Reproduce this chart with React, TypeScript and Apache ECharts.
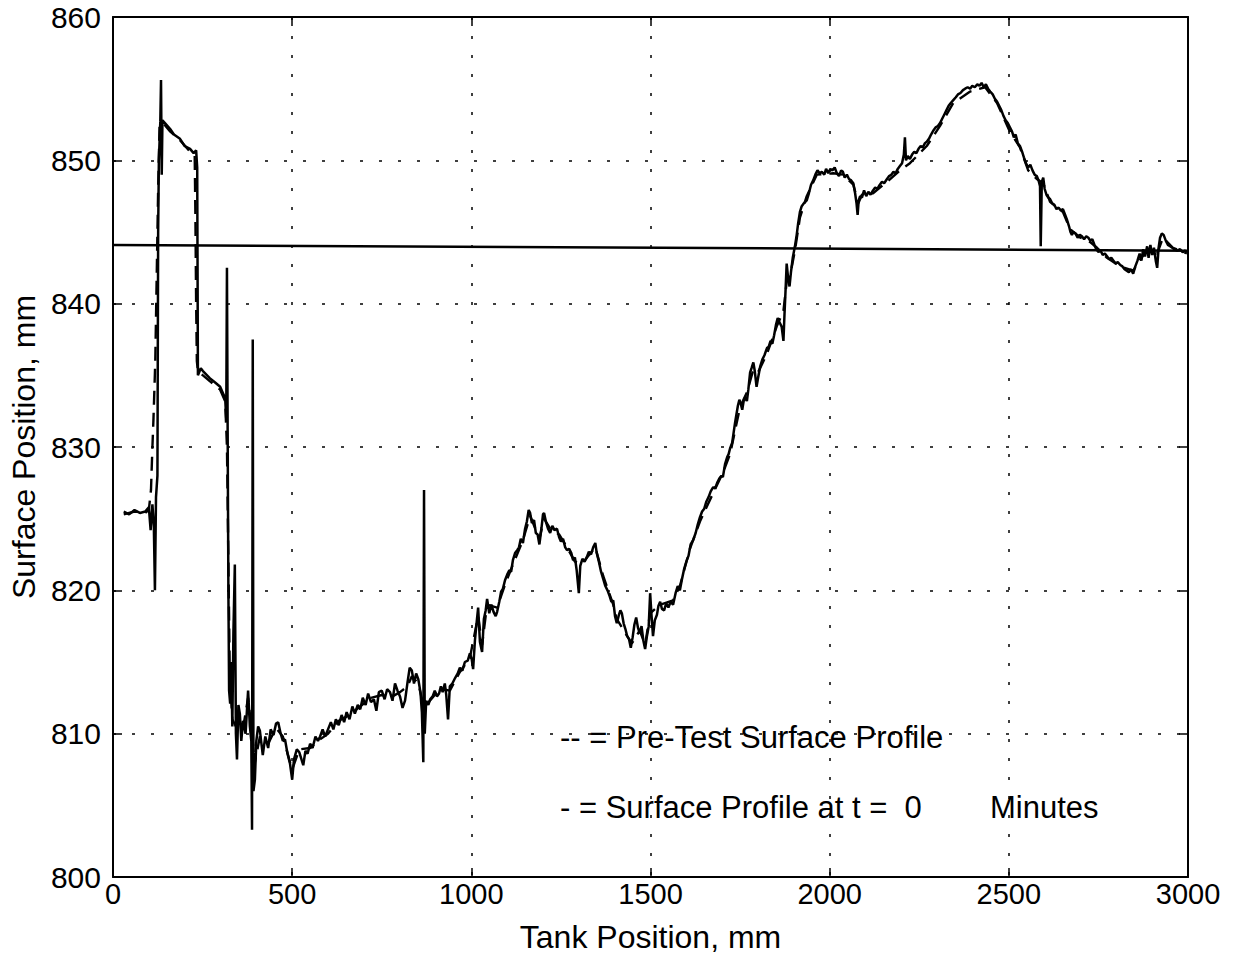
import React, { useEffect, useRef } from "react";
import * as echarts from "echarts";

const xTicks = [0, 500, 1000, 1500, 2000, 2500, 3000];
const yTicks = [800, 810, 820, 830, 840, 850, 860];

const waterLine: number[][] = [[0, 844.1], [3000, 843.7]];

const t0Profile: number[][] = [
  [30, 825.5], [45, 825.3], [60, 825.6], [75, 825.4], [90, 825.5], [100, 825.8], [105, 824.2], [110, 826.0], [114, 824.5], [117, 820.0],
  [120, 826.5], [124, 828], [126, 845], [128, 850], [132, 852.7], [134, 855.6], [136, 849], [138, 852.8], [145, 852.6], [159, 852.2],
  [170, 851.8], [187, 851.5], [200, 851.0], [215, 850.8], [225, 850.5], [232, 850.7], [235, 849.5], [237, 835.0], [245, 835.5], [251, 835.3],
  [270, 834.8], [285, 834.5], [299, 834.2], [313, 833.4], [316, 832], [318, 842.5], [320, 831], [322, 820], [324, 813], [327, 812.1],
  [330, 815], [333, 810.5], [336, 817], [340, 821.8], [343, 810], [346, 808.2], [350, 812], [354, 811.4], [358, 809.5], [363, 810.9],
  [370, 810.0], [377, 813.0], [382, 810.5], [386, 809.5], [388, 803.3], [390, 837.5], [392, 806], [396, 806.8], [400, 809.5], [405, 810.5],
  [410, 810.2], [418, 808.5], [425, 809.8], [433, 809.0], [440, 810.3], [448, 809.9], [455, 810.7], [461, 810.8], [468, 810.0], [474, 809.5],
  [480, 809.6], [487, 808.6], [494, 807.9], [500, 806.8], [505, 808.2], [513, 808.9], [520, 808.7], [526, 808.2], [531, 807.8], [537, 808.8],
  [543, 808.6], [550, 809.3], [557, 809.0], [565, 809.8], [572, 809.5], [578, 809.8], [585, 810.3], [592, 809.8], [600, 810.3], [608, 810.8],
  [615, 810.3], [622, 811.0], [630, 810.6], [638, 811.3], [645, 810.8], [652, 811.5], [660, 811.0], [668, 811.9], [675, 811.4], [683, 812.0],
  [690, 811.7], [697, 812.5], [705, 812.0], [712, 812.8], [720, 812.2], [728, 812.4], [735, 811.6], [742, 812.9], [750, 813.0], [758, 812.4],
  [765, 813.1], [773, 812.9], [780, 812.3], [787, 813.5], [794, 813.0], [801, 812.6], [808, 811.8], [815, 812.3], [822, 813.6], [828, 814.6],
  [834, 814.4], [840, 813.5], [846, 814.2], [852, 813.8], [858, 812.9], [862, 811.5], [866, 808.0], [868, 827.0], [870, 810], [874, 812.3],
  [880, 812.0], [885, 812.4], [892, 812.6], [898, 813.0], [904, 812.6], [910, 812.8], [915, 813.3], [920, 812.9], [926, 813.5], [930, 812.7],
  [935, 811.0], [940, 813.3], [947, 813.5], [955, 813.9], [962, 814.2], [968, 814.6], [975, 814.4], [982, 815.0], [990, 815.1], [996, 815.6],
  [1001, 815.2], [1005, 814.5], [1010, 816.5], [1015, 817.8], [1019, 818.8], [1024, 816.4], [1030, 815.7], [1035, 818.0], [1040, 818.6], [1044, 819.4],
  [1050, 818.4], [1056, 819.0], [1062, 818.5], [1068, 818.2], [1072, 818.5], [1078, 819.2], [1083, 819.9], [1088, 820.1], [1094, 820.7], [1100, 821.1],
  [1106, 821.4], [1111, 821.3], [1116, 822.1], [1122, 822.6], [1128, 822.8], [1133, 823.0], [1138, 823.6], [1144, 823.3], [1150, 824.3], [1155, 824.8],
  [1160, 825.6], [1164, 825.4], [1169, 824.7], [1175, 824.9], [1180, 824.0], [1185, 823.9], [1190, 823.2], [1196, 824.4], [1200, 825.3], [1203, 825.4],
  [1208, 824.8], [1214, 824.3], [1220, 824.0], [1226, 824.5], [1232, 824.2], [1239, 824.3], [1245, 823.7], [1250, 823.4], [1256, 823.6], [1262, 823.0],
  [1267, 822.8], [1273, 822.9], [1279, 822.6], [1284, 822.1], [1289, 822.3], [1294, 821.4], [1300, 819.8], [1304, 821.7], [1310, 822.2], [1316, 822.0],
  [1322, 822.3], [1328, 822.7], [1334, 822.5], [1340, 823.0], [1346, 823.3], [1350, 822.6], [1356, 822.0], [1362, 821.3], [1368, 820.8], [1374, 820.3],
  [1380, 820.0], [1386, 819.6], [1391, 819.2], [1396, 819.3], [1401, 818.2], [1406, 817.7], [1412, 818.3], [1416, 818.6], [1420, 818.4], [1425, 817.7],
  [1430, 817.3], [1435, 816.8], [1440, 816.6], [1445, 816.0], [1450, 816.7], [1455, 817.6], [1460, 818.1], [1465, 817.4], [1470, 817.0], [1475, 817.5],
  [1480, 816.5], [1485, 815.9], [1490, 816.8], [1495, 817.5], [1499, 819.8], [1503, 818.2], [1507, 816.8], [1512, 817.9], [1518, 818.3], [1522, 818.9],
  [1527, 819.2], [1532, 818.7], [1538, 818.6], [1544, 819.1], [1550, 818.8], [1556, 819.2], [1563, 819.0], [1570, 819.8], [1576, 820.3], [1582, 820.0],
  [1588, 820.8], [1594, 821.5], [1600, 822.0], [1606, 822.4], [1612, 823.2], [1619, 823.5], [1626, 824.0], [1632, 824.6], [1638, 825.1], [1644, 825.5],
  [1650, 825.7], [1656, 826.2], [1662, 826.5], [1668, 826.9], [1675, 827.2], [1680, 827.1], [1686, 827.5], [1692, 827.8], [1698, 828.0], [1702, 827.9],
  [1708, 828.8], [1714, 829.3], [1718, 829.5], [1722, 829.9], [1728, 830.3], [1732, 831.0], [1736, 831.7], [1740, 832.3], [1744, 832.9], [1748, 833.3],
  [1752, 833.0], [1756, 832.6], [1760, 833.2], [1765, 833.5], [1769, 833.2], [1773, 834.0], [1778, 835.2], [1782, 835.5], [1787, 835.9], [1791, 835.3],
  [1796, 834.2], [1800, 834.8], [1806, 835.6], [1812, 836.1], [1818, 836.4], [1825, 836.9], [1830, 837.0], [1835, 837.4], [1840, 837.2], [1845, 837.8],
  [1850, 838.5], [1855, 839.0], [1860, 838.7], [1866, 838.4], [1871, 837.4], [1874, 839.3], [1877, 841.0], [1880, 842.8], [1884, 841.8], [1888, 841.2],
  [1892, 842.2], [1897, 843.2], [1903, 844.0], [1908, 844.8], [1912, 845.6], [1917, 846.4], [1922, 846.8], [1928, 847.0], [1936, 847.2], [1942, 847.7],
  [1948, 848.3], [1954, 848.6], [1960, 849.0], [1966, 849.3], [1972, 849.1], [1978, 849.2], [1985, 849.0], [1990, 849.4], [1996, 849.1], [2002, 849.4],
  [2008, 849.3], [2014, 849.5], [2020, 849.1], [2026, 848.9], [2032, 849.3], [2037, 849.2], [2042, 848.8], [2048, 849.0], [2054, 848.7], [2060, 848.6],
  [2066, 848.4], [2071, 847.7], [2075, 847.0], [2078, 846.2], [2081, 847.2], [2085, 847.5], [2090, 847.4], [2096, 847.9], [2102, 847.5], [2108, 847.8],
  [2114, 847.6], [2121, 847.9], [2127, 848.1], [2133, 848.0], [2140, 848.3], [2146, 848.5], [2152, 848.4], [2160, 848.7], [2166, 848.9], [2172, 849.0],
  [2178, 849.2], [2184, 849.1], [2190, 849.4], [2196, 849.6], [2202, 849.8], [2207, 850.4], [2210, 851.6], [2213, 850.0], [2218, 850.3], [2224, 850.1],
  [2230, 850.4], [2236, 850.6], [2242, 850.5], [2248, 850.8], [2254, 851.0], [2260, 850.9], [2266, 851.2], [2271, 851.3], [2277, 851.5], [2283, 851.8],
  [2290, 852.1], [2296, 852.3], [2302, 852.4], [2308, 852.6], [2314, 852.9], [2320, 853.2], [2326, 853.5], [2332, 853.8], [2338, 854.0], [2345, 854.2],
  [2352, 854.4], [2358, 854.6], [2365, 854.7], [2372, 854.9], [2378, 855.0], [2385, 855.1], [2392, 855.0], [2398, 855.2], [2405, 855.1], [2412, 855.3],
  [2418, 855.2], [2424, 855.4], [2430, 855.1], [2436, 855.3], [2442, 855.0], [2448, 854.8], [2455, 854.6], [2461, 854.3], [2467, 854.1], [2473, 853.8],
  [2479, 853.5], [2485, 853.1], [2491, 852.8], [2497, 852.6], [2503, 852.3], [2509, 852.0], [2514, 851.6], [2519, 851.8], [2525, 851.2], [2531, 851.0],
  [2537, 850.6], [2542, 850.2], [2548, 849.8], [2554, 849.5], [2560, 849.7], [2566, 849.3], [2572, 849.0], [2578, 848.9], [2583, 848.6], [2587, 848.2],
  [2589, 844.0], [2592, 848.5], [2596, 848.8], [2600, 848.0], [2605, 847.6], [2610, 847.4], [2615, 847.3], [2621, 847.0], [2627, 846.9], [2633, 846.6],
  [2639, 846.7], [2645, 846.5], [2651, 846.6], [2657, 846.2], [2663, 845.8], [2668, 845.4], [2672, 845.0], [2676, 844.8], [2680, 845.0], [2686, 844.9],
  [2692, 844.6], [2698, 844.8], [2704, 844.7], [2710, 844.5], [2716, 844.7], [2722, 844.6], [2727, 844.4], [2733, 844.5], [2739, 844.1], [2744, 843.8],
  [2750, 843.6], [2756, 843.7], [2762, 843.4], [2768, 843.5], [2774, 843.3], [2780, 843.1], [2786, 843.2], [2792, 843.0], [2798, 842.8], [2804, 842.9],
  [2811, 842.7], [2817, 842.6], [2823, 842.4], [2829, 842.3], [2835, 842.2], [2841, 842.4], [2847, 842.1], [2853, 842.6], [2859, 843.0], [2865, 843.5],
  [2870, 843.0], [2875, 843.8], [2880, 843.3], [2886, 844.0], [2890, 843.2], [2895, 844.1], [2900, 843.4], [2905, 843.9], [2910, 843.0], [2914, 842.5],
  [2918, 843.9], [2922, 844.6], [2927, 844.9], [2932, 844.8], [2938, 844.4], [2944, 844.1], [2950, 844.0], [2956, 843.9], [2962, 843.8], [2970, 843.7],
  [2978, 843.8], [2985, 843.6], [2992, 843.7], [2997, 843.6],
];

const preTestProfile: number[][] = [
  [30, 825.3], [60, 825.5], [90, 825.4], [100, 825.6], [106, 827], [110, 830], [113, 832], [118, 836], [122, 842], [126, 848],
  [130, 852.5], [140, 852.6], [160, 852.0], [187, 851.4], [215, 850.6], [228, 850.3], [230, 846], [232, 840], [234, 836], [237, 835.3],
  [251, 835.0], [270, 834.6], [299, 834.0], [313, 833.2], [318, 830], [322, 822], [326, 814], [333, 811], [343, 810.5], [354, 810.8],
  [363, 810.4], [377, 812.5], [388, 810], [396, 808], [410, 809.8], [433, 809.3], [455, 810.4], [474, 809.8], [500, 807.5], [520, 808.9],
  [550, 809.0], [578, 809.6], [600, 810.0], [630, 810.9], [660, 811.3], [690, 811.9], [720, 812.5], [750, 812.7], [780, 812.6], [801, 812.9],
  [822, 813.3], [834, 814.0], [852, 813.5], [866, 812.0], [874, 812.0], [898, 812.7], [920, 813.1], [940, 813.0], [968, 814.3], [996, 815.3],
  [1019, 818.2], [1030, 816.2], [1044, 819.0], [1072, 818.8], [1094, 820.4], [1116, 821.8], [1144, 823.5], [1164, 825.2], [1190, 823.6], [1203, 825.0],
  [1220, 824.3], [1245, 823.9], [1267, 823.0], [1289, 822.0], [1310, 821.9], [1346, 823.0], [1368, 821.0], [1396, 819.0], [1406, 818.0], [1430, 817.0],
  [1448, 816.3], [1470, 817.2], [1485, 816.2], [1499, 818.4], [1527, 819.0], [1563, 819.3], [1582, 820.3], [1610, 822.9], [1638, 824.8], [1675, 826.8],
  [1702, 828.2], [1722, 829.5], [1750, 832.8], [1769, 833.8], [1787, 835.4], [1800, 835.2], [1825, 836.5], [1852, 838.4], [1871, 839.5], [1880, 841.5],
  [1890, 842.0], [1903, 843.7], [1917, 846.0], [1936, 847.5], [1964, 849.0], [2010, 849.1], [2037, 849.0], [2066, 848.3], [2080, 847.0], [2090, 847.6],
  [2121, 847.7], [2160, 848.5], [2196, 849.3], [2224, 849.8], [2271, 851.0], [2308, 852.4], [2345, 854.0], [2392, 854.8], [2434, 855.1], [2467, 854.0],
  [2503, 852.0], [2531, 850.9], [2554, 849.3], [2578, 848.7], [2596, 848.4], [2615, 847.1], [2651, 846.4], [2671, 845.2], [2700, 844.6], [2727, 844.3],
  [2746, 843.9], [2774, 843.2], [2811, 842.6], [2847, 842.3], [2870, 843.2], [2886, 843.7], [2914, 843.5], [2930, 844.6], [2958, 843.9], [2997, 843.5],
];

const FONT = "'Liberation Sans', Arial, Helvetica, sans-serif";

export default function App() {
  const ref = useRef<HTMLDivElement>(null);
  useEffect(() => {
    if (!ref.current) return;
    const chart = echarts.init(ref.current, undefined, { renderer: "svg" });
    const gridLine = { show: true, lineStyle: { color: "#000", width: 1.5, type: [3, 16] as any } };
    const axisLine = { show: true, onZero: false, lineStyle: { color: "#000", width: 2 } };
    const tick = { show: true, inside: true, length: 9, lineStyle: { color: "#000", width: 1.5 } };
    chart.setOption({
      animation: false,
      backgroundColor: "#fff",
      grid: { left: 113, right: 52, top: 17, bottom: 86, containLabel: false },
      xAxis: [
        {
          type: "value", min: xTicks[0], max: xTicks[xTicks.length - 1], interval: 500,
          axisLine, axisTick: tick, splitLine: gridLine,
          axisLabel: { color: "#000", fontSize: 29, fontFamily: FONT, margin: 2, formatter: (v: number) => String(v) },
          name: "Tank Position, mm", nameLocation: "middle", nameGap: 44,
          nameTextStyle: { color: "#000", fontSize: 32, fontFamily: FONT },
        },
        {
          type: "value", position: "top", min: xTicks[0], max: xTicks[xTicks.length - 1], interval: 500,
          axisLine, axisTick: tick, splitLine: { show: false }, axisLabel: { show: false },
        },
      ],
      yAxis: [
        {
          type: "value", min: yTicks[0], max: yTicks[yTicks.length - 1], interval: 10,
          axisLine, axisTick: tick, splitLine: gridLine,
          axisLabel: { color: "#000", fontSize: 30, fontFamily: FONT, margin: 12, formatter: (v: number) => String(v) },
          name: "Surface Position, mm", nameLocation: "middle", nameGap: 70,
          nameTextStyle: { color: "#000", fontSize: 32, fontFamily: FONT },
        },
        {
          type: "value", position: "right", min: yTicks[0], max: yTicks[yTicks.length - 1], interval: 10,
          axisLine, axisTick: tick, splitLine: { show: false }, axisLabel: { show: false },
        },
      ],
      series: [
        {
          name: "Water level", type: "line", data: waterLine, showSymbol: false, silent: true,
          lineStyle: { color: "#000", width: 2.5 }, z: 3,
        },
        {
          name: "Pre-Test Surface Profile", type: "line", data: preTestProfile, showSymbol: false,
          lineStyle: { color: "#000", width: 2.4, type: [14, 8] as any }, z: 4,
        },
        {
          name: "Surface Profile at t = 0 Minutes", type: "line", data: t0Profile, showSymbol: false,
          lineStyle: { color: "#000", width: 2.5 }, z: 5,
        },
      ],
      graphic: [
        {
          type: "text", left: 560, top: 722,
          style: { text: "-- = Pre-Test Surface Profile", fill: "#000", font: `31px ${FONT}` },
        },
        {
          type: "text", left: 560, top: 792,
          style: { text: "- = Surface Profile at t =  0", fill: "#000", font: `31px ${FONT}` },
        },
        {
          type: "text", left: 990, top: 792,
          style: { text: "Minutes", fill: "#000", font: `31px ${FONT}` },
        },
      ],
    });
    return () => chart.dispose();
  }, []);
  return <div ref={ref} style={{ position: "fixed", left: 0, top: 0, width: 1240, height: 963, background: "#fff" }} />;
}
